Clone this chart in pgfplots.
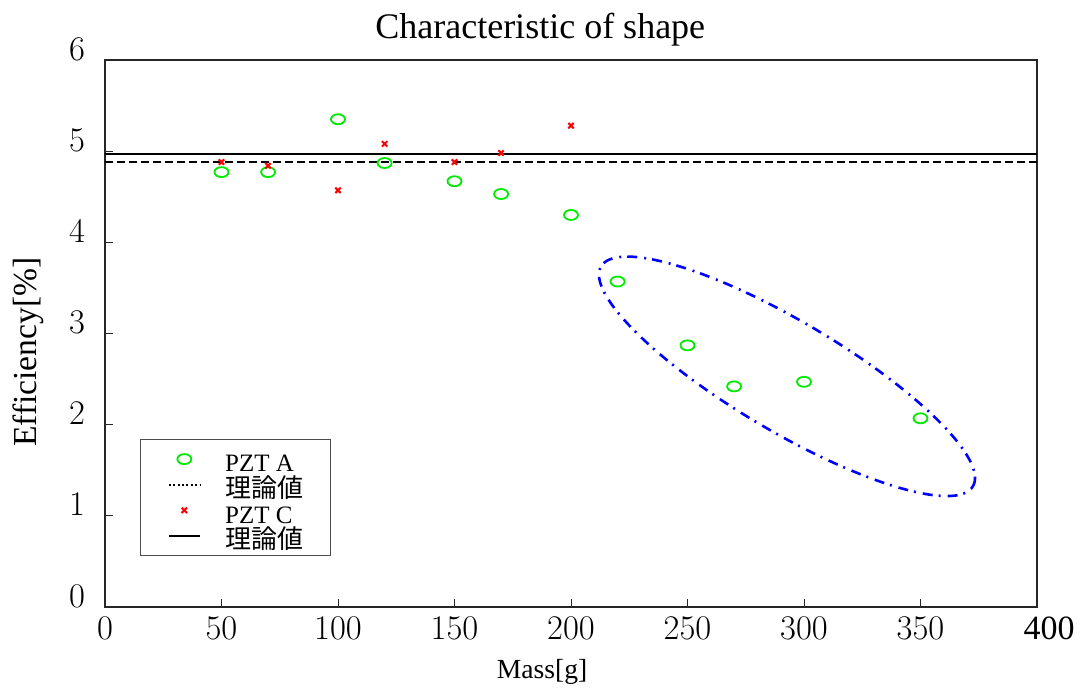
\documentclass[border=0pt]{standalone}
\usepackage[T1]{fontenc}
\usepackage[no-math]{fontspec}
\setmainfont{Liberation Serif}
\newfontfamily\cjk{Noto Sans CJK JP}
\usepackage{pgfplots}
\pgfplotsset{compat=1.18}
\definecolor{pgreen}{RGB}{0,235,0}
\begin{document}
\begin{tikzpicture}
\begin{axis}[
  at={(0pt,0pt)}, anchor=south west,
  scale only axis, width=466pt, height=273.5pt,
  xmin=0, xmax=400, ymin=0, ymax=6,
  xtick={0,50,...,400}, ytick={0,1,...,6},
  xticklabels={$0$,$50$,$100$,$150$,$200$,$250$,$300$,$350$,{\hspace{12pt}\fontsize{17}{19}\selectfont 400}},
  tick pos=left, tick align=inside, major tick length=4pt,
  axis line style={black!85, line width=0.6pt},
  tick style={black!85, line width=0.5pt},
  tick label style={font=\fontsize{16}{18}\selectfont},
  yticklabel style={xshift=-6.5pt, yshift=5.5pt},
  xticklabel style={yshift=-1.5pt},
  title={Characteristic of shape},
  title style={font=\fontsize{18}{21}\selectfont, at={(axis description cs:0.467,1)}, anchor=center, yshift=9pt},
  xlabel={Mass[g]},
  xlabel style={font=\fontsize{13.8}{16}\selectfont, at={(axis description cs:0.469,-0.119)}, anchor=center},
  ylabel={Efficiency[\%]},
  ylabel style={font=\fontsize{16.8}{19}\selectfont, at={(axis description cs:-0.0826,0.466)}, anchor=center},
  legend style={at={(0.0376,0.0932)}, anchor=south west, draw=black!70, line width=0.5pt,
    font=\fontsize{12.5}{13}\selectfont, row sep=0pt, inner xsep=13.5pt, inner ysep=3.4pt,
    nodes={inner xsep=0pt, inner ysep=0pt, text height=12.8pt, text depth=0pt},
    /tikz/every odd column/.append style={column sep=12pt}},
  legend cell align=left,
  legend image code/.code={\draw[mark repeat=2, mark phase=2, #1] plot coordinates {(0pt,0pt) (7.75pt,0pt) (15.5pt,0pt)};},
]
\addplot[only marks, mark=o, pgreen, mark size=2.5pt, mark options={xscale=1.4, line width=0.9pt}]
coordinates {(50,4.77) (70,4.77) (100,5.35) (120,4.87) (150,4.67) (170,4.53) (200,4.30)
 (220,3.57) (250,2.87) (270,2.42) (300,2.47) (350,2.07)};
\addlegendentry{PZT A}
\addplot[black, line width=1.2pt, dash pattern=on 4pt off 2pt, forget plot] coordinates {(0,4.88) (400,4.88)};
\addlegendimage{black, line width=1pt, dash pattern=on 1pt off 1.2pt}
\addlegendentry{{\cjk\fontsize{13}{13}\selectfont 理論値}}
\addplot[only marks, mark=x, red, mark size=1.9pt, mark options={line width=1pt}]
coordinates {(50,4.88) (70,4.84) (100,4.57) (120,5.08) (150,4.88) (170,4.98) (200,5.28)};
\addlegendentry{PZT C}
\addplot[black, line width=1.3pt] coordinates {(0,4.97) (400,4.97)};
\addlegendentry{{\cjk\fontsize{13}{13}\selectfont 理論値}}
\begin{scope}[shift={(axis cs:292.7,2.53)}, rotate=-30.6]
\draw[blue, line width=1.3pt, dash pattern=on 5pt off 3pt on 1pt off 3.5pt] (0pt,0pt) ellipse [x radius=108pt, y radius=27.5pt];
\end{scope}
\end{axis}
\pgfresetboundingbox
\useasboundingbox (-52.5pt,-40.5pt) rectangle (487.5pt,303.5pt);
\end{tikzpicture}
\end{document}
